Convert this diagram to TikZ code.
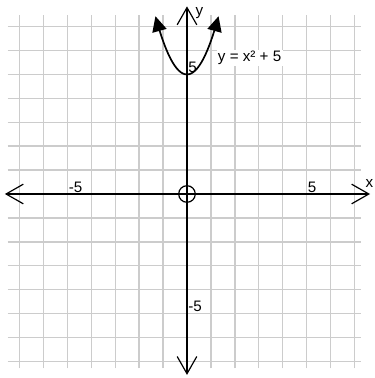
\documentclass[tikz,border=0pt]{standalone}
\usepackage{fontspec}
\setmainfont{Liberation Sans}
\usetikzlibrary{arrows.meta}

\begin{document}
\begin{tikzpicture}[x=5.975mm, y=5.975mm, font=\fontsize{10.8}{13}\selectfont,
    gridline/.style = {draw=black!20, line width=1.1pt},
    axis/.style = {draw, line width=0.85pt, {Straight Barb[length=4.3mm,width=4.9mm]}-{Straight Barb[length=4.3mm,width=4.9mm]}},
    curve/.style = {draw, line width=1.2pt, {Triangle[length=3.8mm,width=3.6mm]}-{Triangle[length=3.8mm,width=3.6mm]}},
    tick/.style = {fill=white, inner sep=0.8pt, anchor=south west}]
            \useasboundingbox (-7.824,-7.699) rectangle (7.866,8.117);

            \foreach \i in {-7,...,7} {
                \draw[gridline] (\i,-7.3) -- (\i,7.5);
                \draw[gridline] (-7.5,\i) -- (7.3,\i);
            }

            % tick labels first, so the axes stay on top
            \node[tick] (xm5) at (-5,0) {-5};
            \node[tick] (xp5) at (5,0) {5};
            \node[tick] (yp5) at (0,5) {5};
            \node[tick] (ym5) at (0,-5) {-5};

            \coordinate (xl) at (-7.62,0);
            \coordinate (xr) at (7.66,0);
            \coordinate (yt) at (0,7.85);
            \coordinate (yb) at (0,-7.57);

            \path[axis] (xl) -- (xr);
            \path[axis] (yb) -- (yt);

            \node[draw, circle, line width=0.85pt, minimum size=4.15mm, inner sep=0pt] (O) at (0,0) {};

            \path[curve] plot[domain=-1.32:1.32, smooth, samples=31] (\x, {5+1.4*\x*\x});

            \node (xlab) at (7.63,0.42) {x};
            \node (ylab) at (0.52,7.56) {y};
            \node[fill=white, inner sep=1pt] (eq) at (2.62,5.69) {y = x² + 5};
        \end{tikzpicture}
\end{document}
